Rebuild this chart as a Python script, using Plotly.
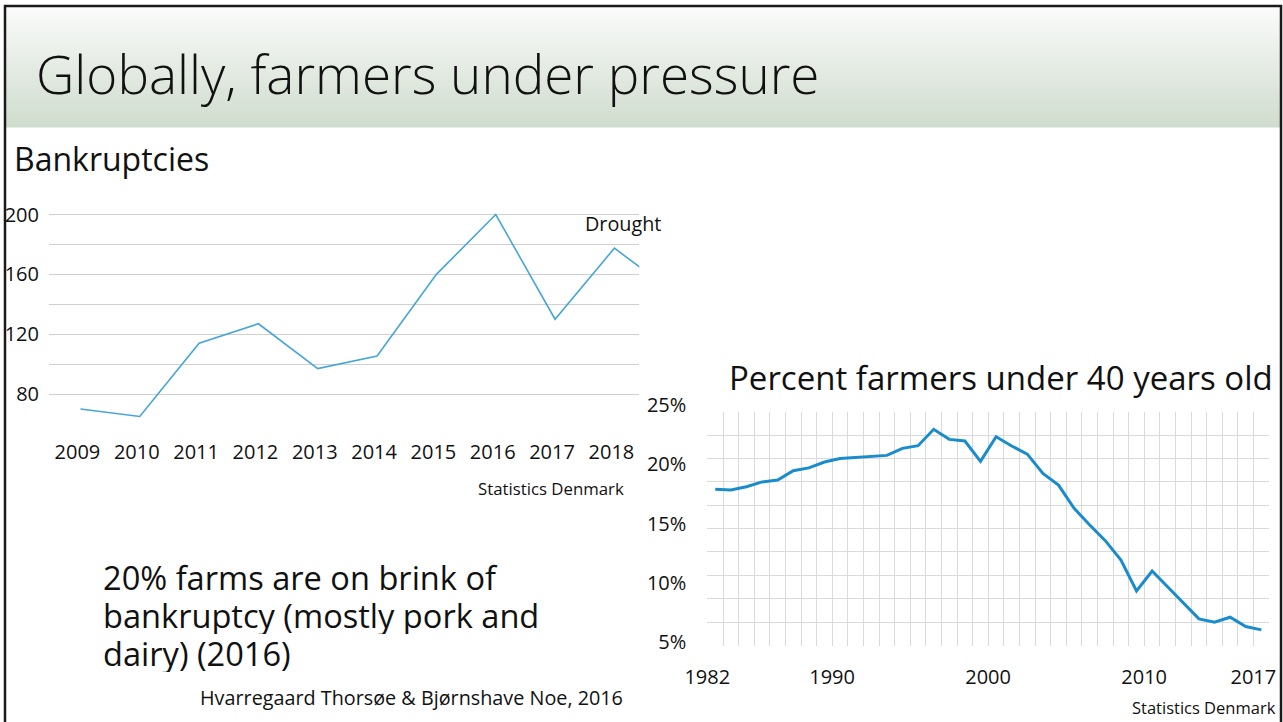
import plotly.graph_objects as go

W, H = 1283, 722

# ---------------- data ----------------
# Bankruptcies (left chart)
bk_years = [2009, 2010, 2011, 2012, 2013, 2014, 2015, 2016, 2017, 2018, 2019]
bk_values = [70, 65, 114, 127, 97, 105.5, 160, 200, 130, 177.5, 148]
bk_tick_years = [2009, 2010, 2011, 2012, 2013, 2014, 2015, 2016, 2017, 2018]
bk_grid_vals = [60, 80, 100, 120, 140, 160, 180, 200, 220]
bk_label_vals = [80, 120, 160, 200]

# Percent farmers under 40 (right chart)
young_years = [1982, 1983, 1984, 1985, 1986, 1987, 1988, 1989, 1990, 1991,
               1992, 1993, 1994, 1995, 1996, 1997, 1998, 1999, 2000, 2001,
               2002, 2003, 2004, 2005, 2006, 2007, 2008, 2009, 2010, 2011,
               2012, 2013, 2014, 2015, 2016, 2017]
young_pct = [18.36, 18.3, 18.58, 19.0, 19.16, 19.95, 20.2, 20.7, 21.0, 21.1,
             21.15, 21.27, 21.87, 22.1, 23.5, 22.64, 22.5, 20.76, 22.86, 22.07,
             21.38, 19.73, 18.73, 16.74, 15.31, 13.97, 12.31, 9.66, 11.37, 10.03,
             8.61, 7.27, 6.98, 7.41, 6.61, 6.33]
young_tick_years = [1982, 1990, 2000, 2010, 2017]
young_tick_pct = [5, 10, 15, 20, 25]
young_tick_text = ["5%", "10%", "15%", "20%", "25%"]

FONT = "Open Sans"


def px_x(v):
    return v / W


def px_y(v):
    return 1 - v / H


fig = go.Figure()

fig.add_trace(go.Scatter(
    x=bk_years, y=bk_values, mode="lines",
    line=dict(color="#46A6D6", width=1.6),
    xaxis="x", yaxis="y", hoverinfo="skip", showlegend=False))

# hidden trace for the label axes of the right chart
fig.add_trace(go.Scatter(
    x=young_years, y=young_pct, mode="lines", opacity=0,
    line=dict(width=0), xaxis="x2", yaxis="y2",
    hoverinfo="skip", showlegend=False))

fig.add_trace(go.Scatter(
    x=young_years, y=young_pct, mode="lines",
    line=dict(color="#1A8CCC", width=3),
    xaxis="x3", yaxis="y3", hoverinfo="skip", showlegend=False))

tickfont = dict(family=FONT, size=20, color="#111111")
RX = [px_x(707.3), px_x(1269.3)]

fig.update_layout(
    width=W, height=H,
    autosize=False,
    margin=dict(l=0, r=0, t=0, b=0, pad=0, autoexpand=False),
    paper_bgcolor="white", plot_bgcolor="rgba(0,0,0,0)",
    showlegend=False,
    xaxis=dict(domain=[px_x(49), px_x(639.3)], range=[2008.47, 2018.42],
               tickvals=bk_tick_years, showgrid=False, zeroline=False,
               showline=False, ticks="", tickfont=tickfont,
               ticklabelstandoff=14, ticklabelshift=-3, anchor="y",
               automargin=False, fixedrange=True),
    yaxis=dict(domain=[px_y(424.3), px_y(184.3)], range=[59.8, 220.2],
               tickvals=bk_grid_vals,
               ticktext=[str(v) if v in bk_label_vals else "" for v in bk_grid_vals],
               showgrid=True, gridcolor="#D0D0D0", gridwidth=1,
               zeroline=False, showline=False, ticks="", tickfont=tickfont,
               ticklabelstandoff=9, anchor="x", automargin=False,
               fixedrange=True),
    # right chart: label axes
    xaxis2=dict(domain=RX, range=[1981.49, 2017.51],
                tickvals=young_tick_years, showgrid=False, zeroline=False,
                showline=False, ticks="", tickfont=tickfont,
                ticklabelstandoff=21, ticklabelshift=-8,
                ticklabeloverflow="allow",
                anchor="y2", automargin=False, fixedrange=True),
    yaxis2=dict(domain=[px_y(642), px_y(405)], range=[4.99, 25.01],
                tickvals=young_tick_pct, ticktext=young_tick_text,
                showgrid=False, zeroline=False, showline=False, ticks="",
                tickfont=tickfont, ticklabelstandoff=20, anchor="x2",
                automargin=False, fixedrange=True),
    # right chart: grid axes carrying the line
    xaxis3=dict(domain=RX, range=[1981.49, 2017.51], tick0=1981.5,
                dtick=1, showgrid=True, gridcolor="#DADADA", gridwidth=1,
                showticklabels=False, zeroline=False, showline=False,
                ticks="", anchor="y3", automargin=False, fixedrange=True),
    yaxis3=dict(domain=[px_y(645.5), px_y(411.7)], range=[4.99, 25.01],
                tick0=5, dtick=2,
                showgrid=True, gridcolor="#DADADA", gridwidth=1,
                showticklabels=False, zeroline=False, showline=False,
                ticks="", anchor="x3", automargin=False, fixedrange=True),
)

# ---------------- decoration: title band gradient ----------------
shapes = []
top, bottom = 7, 127
n = 60
c0 = (250, 251, 250)
c1 = (208, 220, 206)
step = (bottom - top) / n
for i in range(n):
    t = i / (n - 1)
    col = tuple(round(c0[k] + (c1[k] - c0[k]) * t) for k in range(3))
    shapes.append(dict(type="rect", xref="paper", yref="paper",
                       x0=px_x(5), x1=px_x(1281),
                       y0=px_y(top + (i + 1) * step + 0.5), y1=px_y(top + i * step),
                       line=dict(width=0), fillcolor="rgb(%d,%d,%d)" % col,
                       layer="below"))
# slide border
border = dict(color="#1A1A1A", width=2.5)
shapes.append(dict(type="line", xref="paper", yref="paper",
                   x0=px_x(4), x1=px_x(1282), y0=px_y(6), y1=px_y(6), line=border))
shapes.append(dict(type="line", xref="paper", yref="paper",
                   x0=px_x(5), x1=px_x(5), y0=px_y(5), y1=px_y(722), line=border))
shapes.append(dict(type="line", xref="paper", yref="paper",
                   x0=px_x(1281), x1=px_x(1281), y0=px_y(5), y1=px_y(722), line=border))
fig.update_layout(shapes=shapes)


def note(text, x, y, size, xanchor="left", color="#111111", weight=None,
         height=None):
    f = dict(family=FONT, size=size, color=color)
    if weight:
        f["weight"] = weight
    kw = {}
    if height:
        kw["height"] = height
        kw["valign"] = "middle"
    fig.add_annotation(text=text, xref="paper", yref="paper",
                       x=px_x(x), y=px_y(y), xanchor=xanchor, yanchor="middle",
                       showarrow=False, font=f, align="left", **kw)


note("Globally, farmers under pressure", 34, 73, 53, weight=300)
note("Bankruptcies", 12, 158, 32)
note("Drought", 583, 223, 19.8)
note("Statistics Denmark", 626, 488, 16.8, xanchor="right")
note("20% farms are on brink of", 101, 577, 32.6, height=37)
note("bankruptcy (mostly pork and", 101, 615, 32.6, height=37)
note("dairy) (2016)", 101, 653, 32.6, height=37)
note("Hvarregaard Thorsøe &amp; Bjørnshave Noe, 2016", 198, 697, 19.8)
note("Percent farmers under 40 years old", 727, 377, 33)
note("Statistics Denmark", 1278, 707, 16.5, xanchor="right")

fig.write_html(
    "out.html",
    post_script=(
        "document.documentElement.style.margin='0';"
        "document.body.style.margin='0';"
        "document.body.style.overflow='hidden';"
        "var d=document.getElementById('{plot_id}');"
        "d.style.position='fixed';d.style.left='0px';d.style.top='0px';"
    ),
)
